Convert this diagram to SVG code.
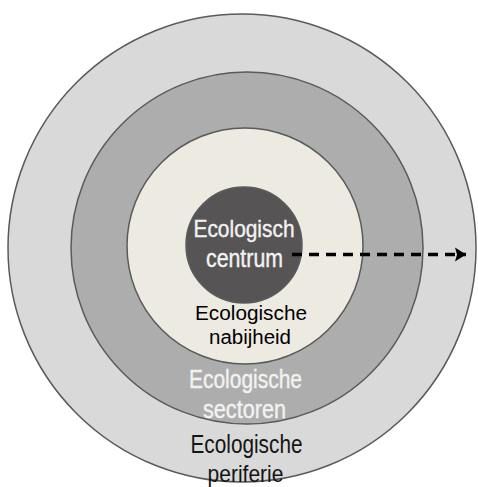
<svg xmlns="http://www.w3.org/2000/svg" width="478" height="487" viewBox="0 0 478 487">
<style>
.ring{stroke:#5a5a5a;stroke-width:1.5}
.t{font-family:"Liberation Sans",Arial,sans-serif;text-anchor:middle}
.w{fill:#f2f2f2;stroke:#f2f2f2;stroke-width:0.4}
.b{fill:#151515}
.n{font-family:"Liberation Sans",Arial,sans-serif;fill:#000;font-size:20px;text-anchor:middle}
</style>
<defs>
<marker id="ah" markerWidth="14" markerHeight="16" refX="11" refY="8" orient="auto" markerUnits="userSpaceOnUse">
<path d="M0,1 L11,8 L0,15 L2,8 Z" fill="#000"/>
</marker>
</defs>
<rect width="478" height="487" fill="#fff"/>
<g id="periferie">
<circle class="ring" cx="242" cy="248" r="234" fill="#d9d9d9"/>
</g>
<g id="sectoren">
<circle class="ring" cx="247" cy="248" r="176" fill="#adadad"/>
</g>
<g id="nabijheid">
<circle class="ring" cx="245" cy="246" r="118" fill="#edeae2"/>
</g>
<g id="centrum">
<circle class="ring" cx="244" cy="245" r="58" fill="#565454"/>
<text class="t w" x="244" y="237" font-size="24" textLength="101" lengthAdjust="spacingAndGlyphs">Ecologisch</text>
<text class="t w" x="244.5" y="267" font-size="25" textLength="77" lengthAdjust="spacingAndGlyphs">centrum</text>
</g>
<g id="connectors">
<line x1="292" y1="254.5" x2="466" y2="254.5" stroke="#000" stroke-width="3.5" stroke-dasharray="10,7" marker-end="url(#ah)"/>
</g>
<g id="labels">
<text class="n" x="251" y="320" textLength="112" lengthAdjust="spacingAndGlyphs">Ecologische</text>
<text class="n" x="250" y="344" textLength="82" lengthAdjust="spacingAndGlyphs">nabijheid</text>
<text class="t w" x="245.5" y="388" font-size="25" textLength="113" lengthAdjust="spacingAndGlyphs">Ecologische</text>
<text class="t w" x="244.5" y="418" font-size="25" textLength="83" lengthAdjust="spacingAndGlyphs">sectoren</text>
<text class="t b" x="246.5" y="453" font-size="25" textLength="112" lengthAdjust="spacingAndGlyphs">Ecologische</text>
<text class="t b" x="245.5" y="482" font-size="24" textLength="76" lengthAdjust="spacingAndGlyphs">periferie</text>
</g>
</svg>
